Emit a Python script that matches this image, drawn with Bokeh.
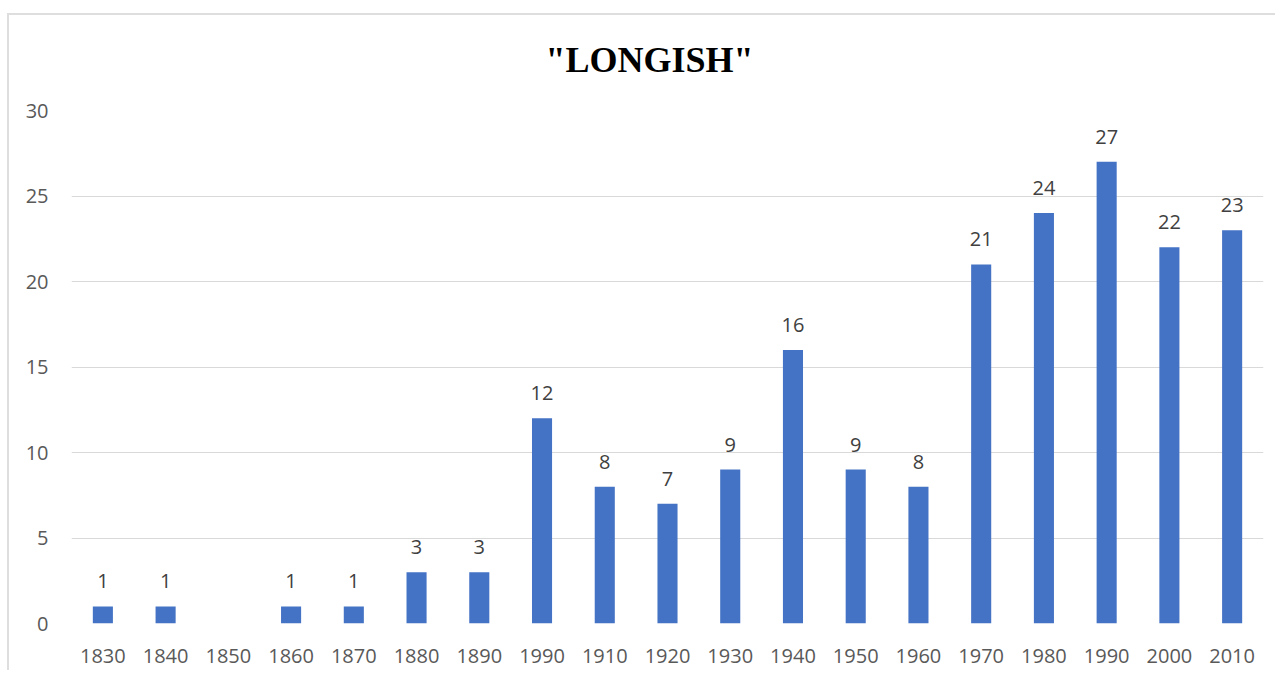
from bokeh.plotting import figure
from bokeh.models import ColumnDataSource, Range1d, FixedTicker
from bokeh.core.properties import value
from bokeh.embed import file_html
from bokeh.resources import INLINE

decades = ["1830", "1840", "1850", "1860", "1870", "1880", "1890", "1990", "1910", "1920",
           "1930", "1940", "1950", "1960", "1970", "1980", "1990", "2000", "2010"]
counts = [1, 1, 0, 1, 1, 3, 3, 12, 8, 7, 9, 16, 9, 8, 21, 24, 27, 22, 23]
labels = ["1", "1", "", "1", "1", "3", "3", "12", "8", "7", "9", "16", "9", "8", "21", "24", "27", "22", "23"]
y_ticks = [0, 5, 10, 15, 20, 25, 30]
title_text = '"LONGISH"'

pos = list(range(len(decades)))
src = ColumnDataSource(dict(x=pos, y=counts, lab=labels))

p = figure(width=1268, height=670, output_backend="svg", toolbar_location=None,
           x_range=Range1d(-0.5, len(decades) - 0.5), y_range=Range1d(0, 30),
           min_border_left=64, min_border_right=12, min_border_top=110, min_border_bottom=47)
p.border_fill_color = None
p.styles = {
    "position": "relative", "left": "7px",
    "background": ("linear-gradient(#dedede,#dedede) 0 13px / 100% 2px no-repeat, "
                   "linear-gradient(#dedede,#dedede) 0 13px / 2px 100% no-repeat"),
}

p.title.text = title_text
p.title.text_font = "Liberation Serif"
p.title.text_font_style = "bold"
p.title.text_font_size = "36px"
p.title.text_color = "#000000"
p.title.align = "left"
p.title.offset = 474
p.title.standoff = 62

p.vbar(x="x", top="y", width=0.32, source=src, fill_color="#4472C4", line_color=None)
p.text(x="x", y="y", text="lab", source=src, text_align="center", text_baseline="bottom",
       y_offset=-18, text_font=value("Open Sans"), text_font_size="20px", text_color="#404040")

p.xaxis.ticker = FixedTicker(ticks=pos)
p.xaxis.major_label_overrides = {i: d for i, d in enumerate(decades)}
p.yaxis.ticker = FixedTicker(ticks=y_ticks)
for ax in (p.xaxis[0], p.yaxis[0]):
    ax.axis_line_color = None
    ax.major_tick_line_color = None
    ax.minor_tick_line_color = None
    ax.major_label_text_font = "Open Sans"
    ax.major_label_text_font_size = "20px"
    ax.major_label_text_color = "#595959"
p.xaxis.major_label_standoff = 19
p.yaxis.major_label_standoff = 17

p.xgrid.grid_line_color = None
p.ygrid.grid_line_color = "#d9d9d9"
p.ygrid.grid_line_width = 1
p.outline_line_color = None

open("out.html", "w").write(file_html(p, INLINE))
